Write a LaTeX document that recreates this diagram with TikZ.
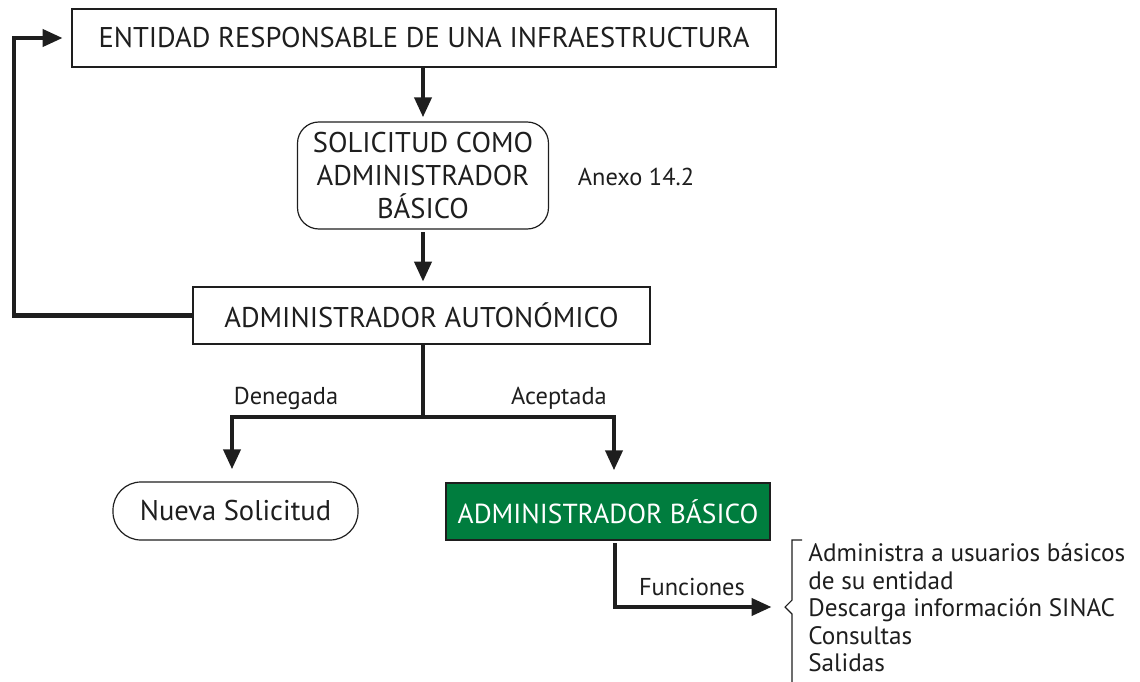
\documentclass[tikz,border=0pt]{standalone}
\usepackage{fontspec}
\setmainfont{PT Sans}
\usetikzlibrary{arrows.meta,calc}
\definecolor{dingreen}{RGB}{0,125,62}
\definecolor{ink}{RGB}{30,30,30}
\tikzset{
  big/.style={font=\fontsize{21.4}{24.4}\selectfont, text=ink},
  small/.style={font=\fontsize{18.3}{20.6}\selectfont, text=ink},
  listtext/.style={font=\fontsize{18.9}{20.6}\selectfont, text=ink},
  plainbox/.style={draw=ink, line width=0.9pt, inner sep=0pt, big, align=center},
  roundbox/.style={plainbox, rounded corners=16pt},
  greenbox/.style={draw=ink, line width=0.9pt, fill=dingreen, inner sep=0pt,
     font=\fontsize{20.6}{24.4}\selectfont, text=white},
  flow/.style={draw=ink, line width=3.4pt,
     -{Triangle[length=15pt,width=12.5pt]}},
  flowline/.style={draw=ink, line width=3.4pt},
  bracket/.style={draw=ink, line width=0.8pt}
}
\begin{document}
\begin{tikzpicture}[x=0.75pt, y=-0.75pt]
\useasboundingbox (0,0) rectangle (1140,682);

\node[plainbox, minimum width=528pt, minimum height=43.5pt] (ent) at (424,38)
  {ENTIDAD RESPONSABLE DE UNA INFRAESTRUCTURA};
\node[roundbox, minimum width=188.25pt, minimum height=80.25pt] (sol) at (423,175.5)
  {SOLICITUD COMO\\ADMINISTRADOR\\BÁSICO};
\node[small, anchor=center] (anexo) at (636,177) {Anexo 14.2};
\node[plainbox, minimum width=342.75pt, minimum height=42.75pt] (aut) at (421.5,315.5)
  {ADMINISTRADOR AUTONÓMICO};
\node[plainbox, rounded corners=21pt, minimum width=183.75pt, minimum height=43.5pt] (nueva) at (235.5,511)
  {Nueva Solicitud};
\node[greenbox, minimum width=243pt, minimum height=42.75pt] (basico) at (608,511.5)
  {ADMINISTRADOR BÁSICO};

\node[small] (deneg) at (286,398) {Denegada};
\node[small] (acept) at (559,398) {Aceptada};
\node[small] (func) at (692,587) {Funciones};
\node[listtext, anchor=west, align=left, inner sep=0pt] (lista) at (808,608)
  {Administra a usuarios básicos\\de su entidad\\Descarga información SINAC\\Consultas\\Salidas};

% main flow
\draw[flow, shorten >=3pt] (ent.south -| sol.north) -- (sol.north);
\draw[flow, shorten <=2pt, shorten >=3.5pt] (sol.south) -- (sol.south |- aut.north);

% feedback loop
\coordinate (fb1) at (14,315.5);
\coordinate (fb2) at (14,38);
\draw[flow, shorten >=6.5pt] (aut.west) -- (fb1) -- (fb2) -- (ent.west);

% branch
\coordinate (jn) at (423,417);
\coordinate (jl) at (232,417);
\coordinate (jr) at (614,417);
\draw[flowline] (aut.south -| jn) -- (jn);
\draw[flow, shorten >=9pt] (jn) -- (jl) -- (jl |- nueva.north);
\draw[flow, shorten >=9pt] (jn) -- (jr) -- (jr |- basico.north);

% funciones
\coordinate (fv) at (615,607);
\coordinate (notch) at (785,607);
\draw[flow, shorten <=2pt, shorten >=10pt] (basico.south -| fv) -- (fv) -- (notch);

% bracket
\draw[bracket] (802,540) -- (792,540) -- (792,600) -- (notch) -- (792,614) -- (792,682);
\end{tikzpicture}
\end{document}
